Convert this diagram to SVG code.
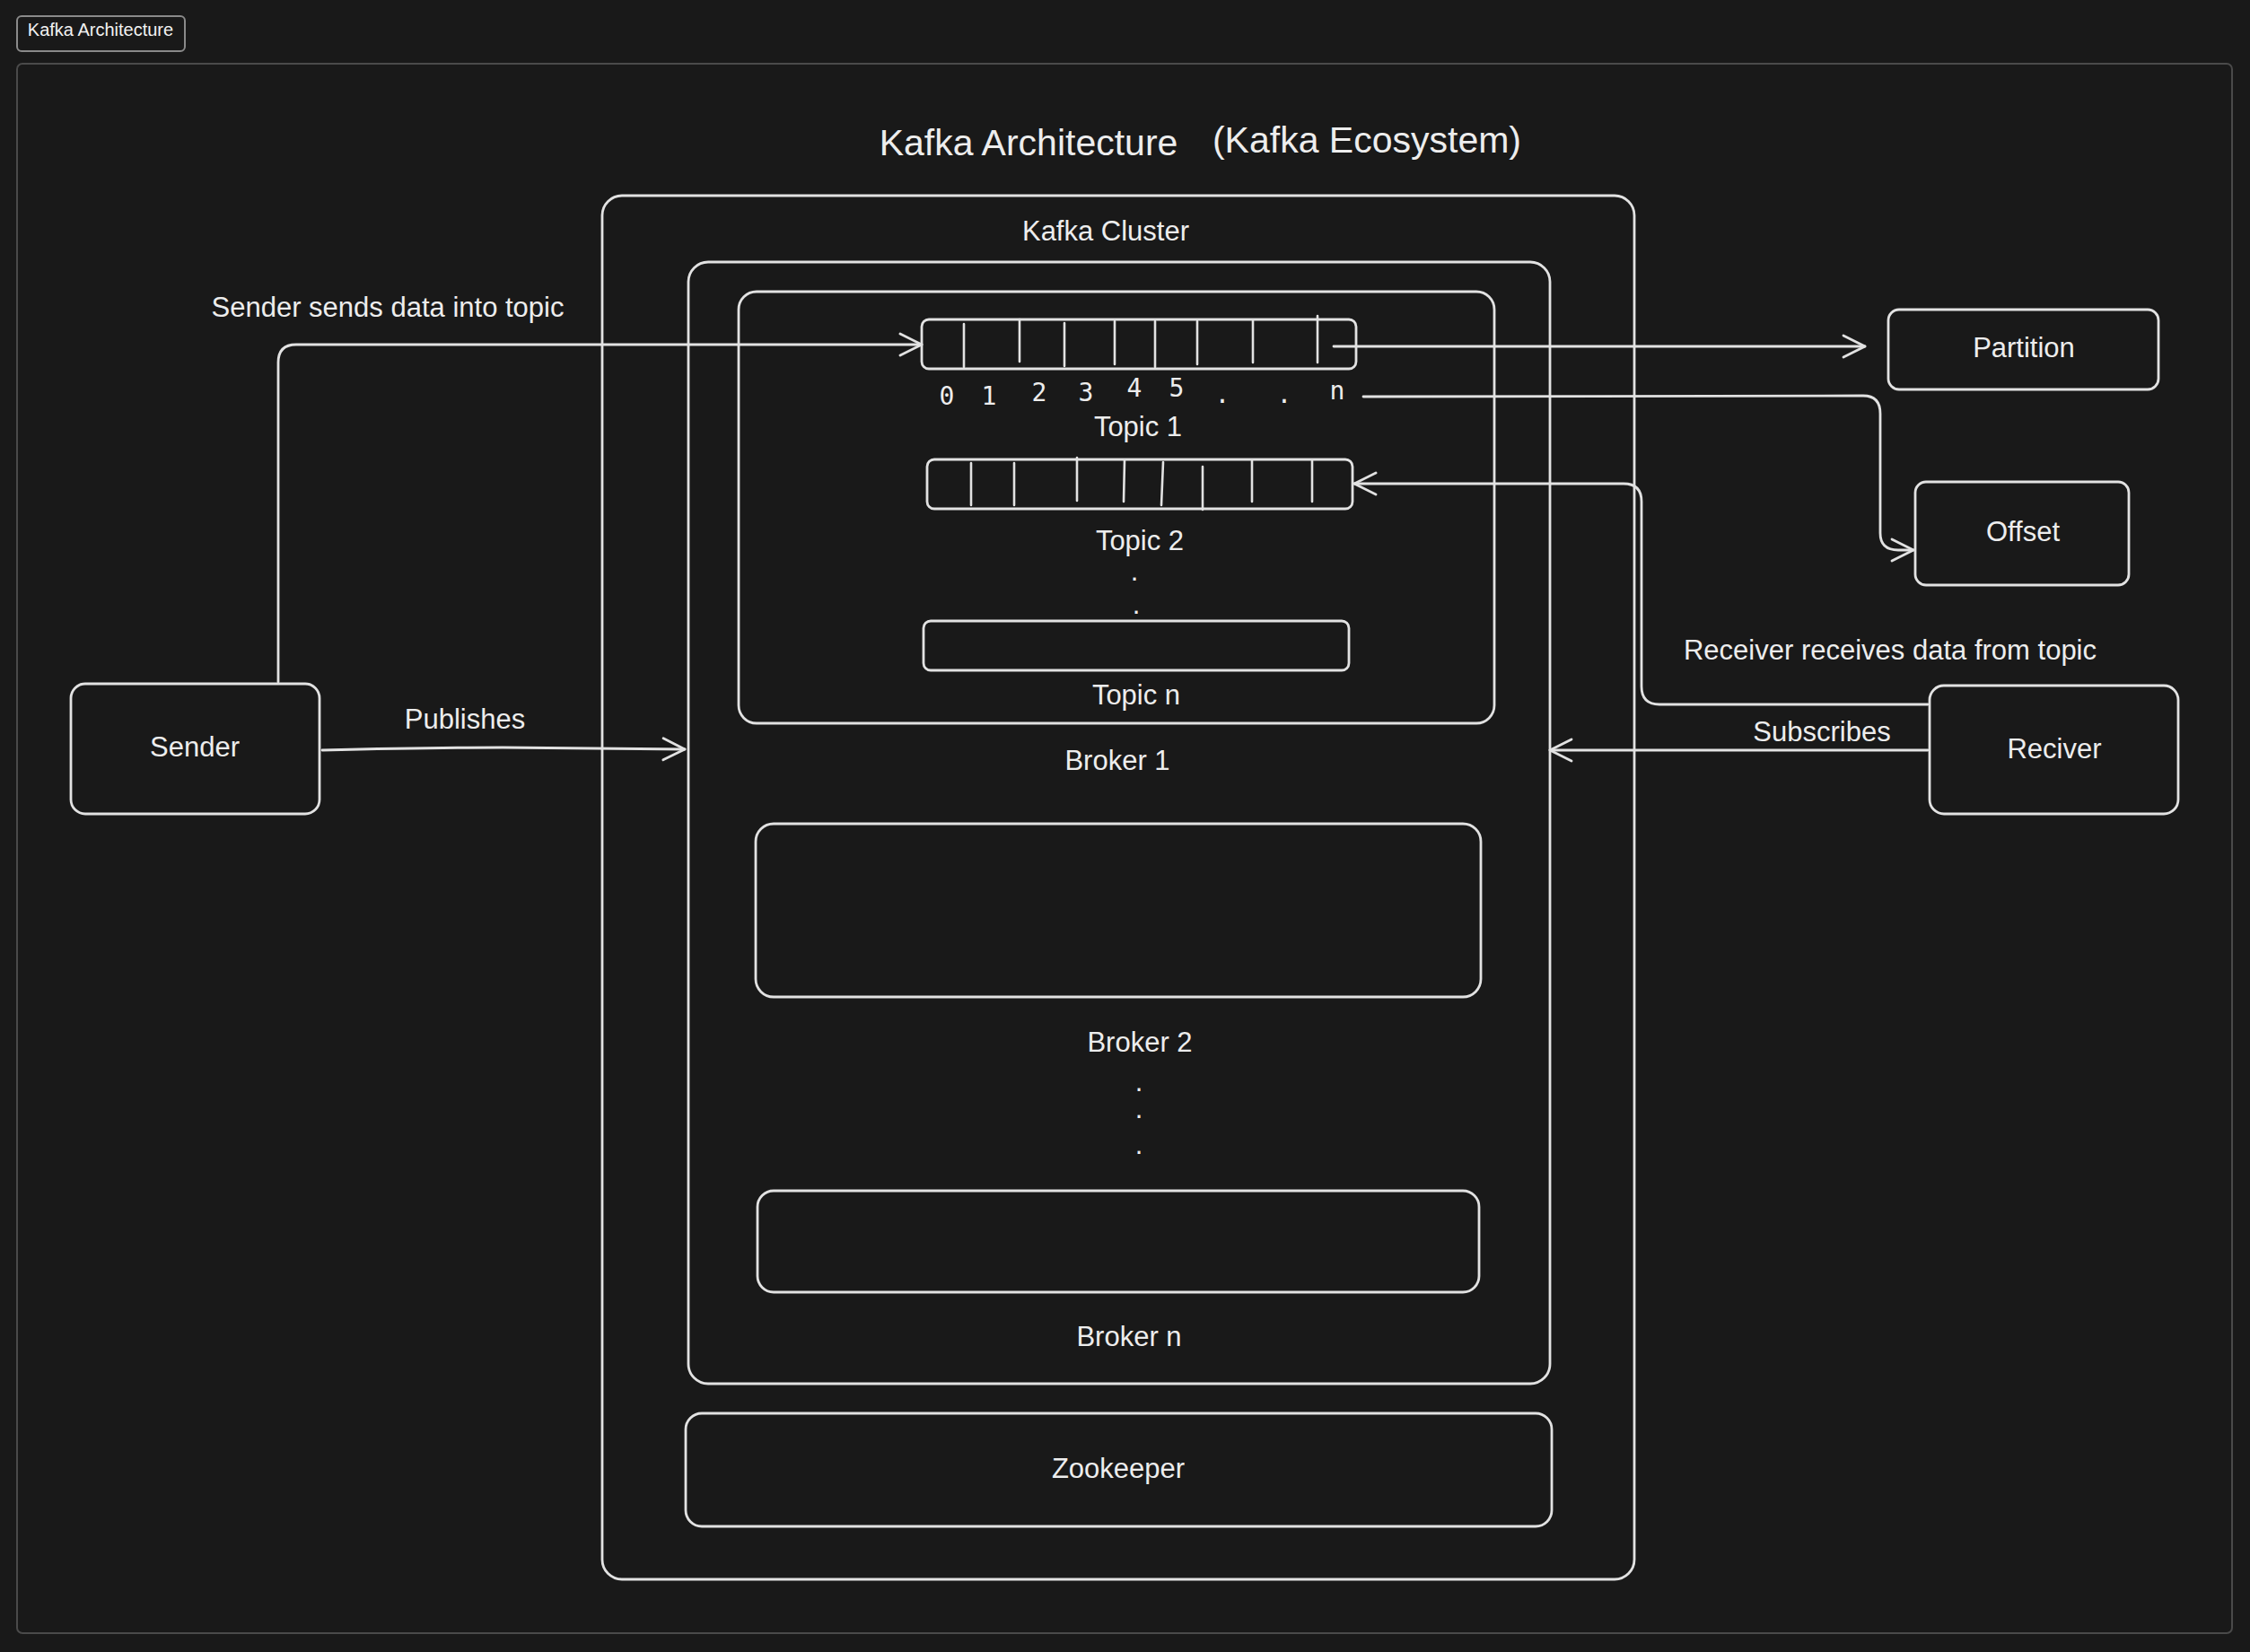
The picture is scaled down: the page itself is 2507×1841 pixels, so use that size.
<svg xmlns="http://www.w3.org/2000/svg" width="2507" height="1841" viewBox="0 0 2507 1841">
<defs>
<style>
.bx{fill:none;stroke:#e2e2e2;stroke-width:2.8}
.ln{fill:none;stroke:#e2e2e2;stroke-width:2.8;stroke-linecap:round;stroke-linejoin:round}
.dv{fill:none;stroke:#e2e2e2;stroke-width:2.6;stroke-linecap:round}
.t{font-family:"Liberation Sans",Arial,sans-serif;font-size:31px;fill:#ededed;text-anchor:middle}
.num{font-family:"DejaVu Sans Mono","Liberation Mono",monospace;font-size:28px;fill:#ededed;text-anchor:middle}
.ttl{font-family:"Liberation Sans",Arial,sans-serif;font-size:41px;fill:#ededed;text-anchor:middle}
</style>
<marker id="arr" markerUnits="userSpaceOnUse" markerWidth="40" markerHeight="40" viewBox="-30 -20 40 40" refX="0" refY="0" orient="auto" overflow="visible">
<path d="M-24,-12 L0,0 L-24,12" fill="none" stroke="#e2e2e2" stroke-width="2.8" stroke-linecap="round" stroke-linejoin="round"/>
</marker>
</defs>
<rect x="0" y="0" width="2507" height="1841" fill="#191919"/>

<g id="frame">
<rect x="19" y="71" width="2468" height="1749" rx="6" fill="none" stroke="#4a4a4a" stroke-width="2"/>
</g>
<g id="tab">
<rect x="19" y="18" width="187" height="39" rx="5" fill="#191919" stroke="#8a8a8a" stroke-width="2"/>
<text x="112" y="40" font-family="Liberation Sans, Arial, sans-serif" font-size="20" fill="#f2f2f2" text-anchor="middle">Kafka Architecture</text>
</g>

<g id="title">
<text class="ttl" x="1146" y="173">Kafka Architecture</text>
<text class="ttl" x="1523" y="170">(Kafka Ecosystem)</text>
</g>

<g id="kafka-cluster">
<rect class="bx" x="671" y="218" width="1150" height="1542" rx="22"/>
<text class="t" x="1232" y="268">Kafka Cluster</text>
</g>

<g id="broker-1">
<rect class="bx" x="767" y="292" width="960" height="1250" rx="22"/>
<text class="t" x="1245" y="858">Broker 1</text>
</g>

<g id="topics">
<rect class="bx" x="823" y="325" width="842" height="481" rx="20"/>
</g>

<g id="topic-1">
<rect class="bx" x="1027" y="356" width="484" height="55" rx="8"/>
<path class="dv" d="M1074,361V409 M1136,356V403 M1186,360V408 M1242,358V406 M1287,358V409 M1334,358V406 M1396,357V404 M1468,352V404"/>
<text class="num" x="1055" y="451">0</text>
<text class="num" x="1102" y="451">1</text>
<text class="num" x="1158" y="447">2</text>
<text class="num" x="1210" y="447">3</text>
<text class="num" x="1264" y="442">4</text>
<text class="num" x="1311" y="442">5</text>
<text class="num" x="1362" y="449">.</text>
<text class="num" x="1431" y="449">.</text>
<text class="num" x="1490" y="445">n</text>
<text class="t" x="1268" y="486">Topic 1</text>
</g>

<g id="topic-2">
<rect class="bx" x="1033" y="512" width="474" height="55" rx="8"/>
<path class="dv" d="M1082,516V563 M1130,516V563 M1200,510V558 M1253,513L1252,559 M1296,515L1294,563 M1340,520V568 M1395,513V559 M1462,513V559"/>
<text class="t" x="1270" y="613">Topic 2</text>
<text class="t" x="1264" y="647">.</text>
<text class="t" x="1266" y="684">.</text>
</g>

<g id="topic-n">
<rect class="bx" x="1029" y="692" width="474" height="55" rx="8"/>
<text class="t" x="1266" y="785">Topic n</text>
</g>

<g id="broker-2">
<rect class="bx" x="842" y="918" width="808" height="193" rx="20"/>
<text class="t" x="1270" y="1172">Broker 2</text>
<text class="t" x="1269" y="1216">.</text>
<text class="t" x="1269" y="1246">.</text>
<text class="t" x="1269" y="1286">.</text>
</g>

<g id="broker-n">
<rect class="bx" x="844" y="1327" width="804" height="113" rx="18"/>
<text class="t" x="1258" y="1500">Broker n</text>
</g>

<g id="zookeeper">
<rect class="bx" x="764" y="1575" width="965" height="126" rx="18"/>
<text class="t" x="1246" y="1647">Zookeeper</text>
</g>

<g id="sender">
<rect class="bx" x="79" y="762" width="277" height="145" rx="16"/>
<text class="t" x="217" y="843">Sender</text>
</g>

<g id="partition">
<rect class="bx" x="2104" y="345" width="301" height="89" rx="12"/>
<text class="t" x="2255" y="398">Partition</text>
</g>

<g id="offset">
<rect class="bx" x="2134" y="537" width="238" height="115" rx="12"/>
<text class="t" x="2254" y="603">Offset</text>
</g>

<g id="reciver">
<rect class="bx" x="2150" y="764" width="277" height="143" rx="16"/>
<text class="t" x="2289" y="845">Reciver</text>
</g>

<g id="connectors">
<path class="ln" d="M310,760 L310,404 Q310,384 330,384 L1027,384" marker-end="url(#arr)"/>
<text class="t" x="432" y="353">Sender sends data into topic</text>
<path class="ln" d="M359,836 Q480,833 560,833 L763,835" marker-end="url(#arr)"/>
<text class="t" x="518" y="812">Publishes</text>
<path class="ln" d="M1486,386 L2078,386" marker-end="url(#arr)"/>
<path class="ln" d="M1519,442 L2076,441 Q2095,441 2095,461 L2095,594 Q2095,613 2115,613 L2132,613" marker-end="url(#arr)"/>
<path class="ln" d="M2148,785 L1849,785 Q1829,785 1829,765 L1829,559 Q1829,539 1809,539 L1509,539" marker-end="url(#arr)"/>
<text class="t" x="2106" y="735">Receiver receives data from topic</text>
<path class="ln" d="M2148,836 L1727,836" marker-end="url(#arr)"/>
<text class="t" x="2030" y="826">Subscribes</text>
</g>
</svg>
